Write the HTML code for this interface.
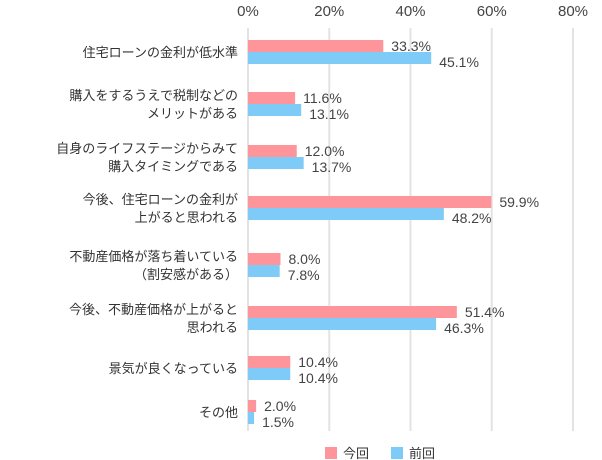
<!DOCTYPE html>
<html><head><meta charset="utf-8"><style>
body{margin:0;background:#fff;}
svg{display:block;font-family:"Liberation Sans","Noto Sans CJK JP",sans-serif;}
</style></head><body>
<svg id="c" width="602" height="460"></svg>
<script>
const categories=[["住宅ローンの金利が低水準"],["購入をするうえで税制などの","メリットがある"],["自身のライフステージからみて","購入タイミングである"],["今後、住宅ローンの金利が","上がると思われる"],["不動産価格が落ち着いている","（割安感がある）"],["今後、不動産価格が上がると","思われる"],["景気が良くなっている"],["その他"]];
const seriesNames=["今回","前回"];
const currentValues=[33.3,11.6,12.0,59.9,8.0,51.4,10.4,2.0];
const previousValues=[45.1,13.1,13.7,48.2,7.8,46.3,10.4,1.5];
const tickValues=[0,20,40,60,80];
const rowY=[52,104,157,208,265,318,368,412];
const colors=["#fd959a","#7dcbf6"];
const svg=document.getElementById('c');const NS="http://www.w3.org/2000/svg";
function x(v){return 248+v*4.0625;}
function mk(t,a,p){const e=document.createElementNS(NS,t);for(const k in a)e.setAttribute(k,a[k]);(p||svg).appendChild(e);return e;}
tickValues.forEach(v=>{
 const l=mk('line',{x1:x(v),x2:x(v),y1:28,y2:431,stroke:'#e3e3e3','stroke-width':2});
 
 
 const t=mk('text',{x:x(v),y:16,'text-anchor':'middle','font-size':15,fill:'#444'});t.textContent=v+'%';
 
 
});
categories.forEach((c,i)=>{
 const cy=rowY[i];
 c.forEach((line,j)=>{
  const t=mk('text',{x:238,y:cy+5+(c.length>1?(j===0?-9:9):0),'text-anchor':'end','font-size':13,fill:'#333'});t.textContent=line;
  
  
 });
 [currentValues[i],previousValues[i]].forEach((v,s)=>{
  const r=mk('rect',{x:x(0),y:s===0?cy-12:cy,width:x(v)-x(0),height:12,fill:colors[s]});
  
  
  const t=mk('text',{x:x(v)+8,y:s===0?cy-1:cy+15,'font-size':14,fill:'#444'});t.textContent=v.toFixed(1)+'%';
  
  
 });
});
[[325,343],[391,409]].forEach((p,s)=>{
 const r=mk('rect',{x:p[0],y:447,width:12,height:12,fill:colors[s]});
 
 
 const t=mk('text',{x:p[1],y:458,'font-size':13,fill:'#333'});t.textContent=seriesNames[s];
 
 
});
</script>
</body></html>
